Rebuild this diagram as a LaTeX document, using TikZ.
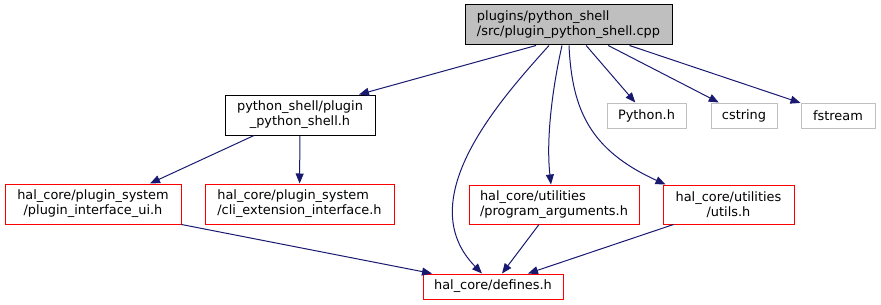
\documentclass[tikz,border=0pt]{standalone}
\usepackage{fontspec}
\setmainfont{DejaVu Sans}
\usetikzlibrary{arrows.meta}

\definecolor{edgeblue}{RGB}{25,25,112}
\definecolor{boxgray}{RGB}{191,191,191}

\tikzset{
  file/.style={draw, line width=1pt, inner sep=0pt, minimum height=40pt,
    font=\fontsize{12.9}{15}\selectfont},
  redfile/.style={file, draw=red},
  sysfile/.style={file, draw=boxgray, minimum height=25pt},
  include/.style={draw=edgeblue, line width=1pt,
    -{Triangle[length=10pt,width=8pt,fill=edgeblue]}}
}

\begin{document}
\begin{tikzpicture}[x=1pt,y=-1pt]
  \useasboundingbox (0,0) rectangle (881,305);
  % top file
  \node[file, fill=boxgray, minimum width=207pt, align=left] (main) at (568.5,25)
    {plugins/python\_shell\\/src/plugin\_python\_shell.cpp};
  % first level
  \node[file, minimum width=150pt, align=center] (pyshell) at (300,115)
    {python\_shell/plugin\\\_python\_shell.h};
  \node[sysfile, minimum width=79pt] (pythonh) at (646.5,115.5) {Python.h};
  \node[sysfile, minimum width=66pt] (cstring) at (744,115.5) {cstring};
  \node[sysfile, minimum width=74pt] (fstream) at (838,115.5) {fstream};
  % second level
  \node[redfile, minimum width=176pt, align=center] (ui) at (93,204)
    {hal\_core/plugin\_system\\/plugin\_interface\_ui.h};
  \node[redfile, minimum width=189pt, align=left] (cli) at (299.5,204)
    {hal\_core/plugin\_system\\/cli\_extension\_interface.h};
  \node[redfile, minimum width=170pt, minimum height=39pt, align=left] (progargs) at (554,204.5)
    {hal\_core/utilities\\/program\_arguments.h};
  \node[redfile, minimum width=131pt, minimum height=39pt, align=center] (utils) at (728.5,204.5)
    {hal\_core/utilities\\/utils.h};
  % bottom file
  \node[redfile, minimum width=140pt, minimum height=25pt] (defines) at (493,286.5)
    {hal\_core/defines.h};

  \draw[include] ([xshift=-32.5pt]main.south) -- ([xshift=59pt]pyshell.north);
  \draw[include] ([xshift=-19.5pt]main.south) .. controls (500,100) and (410,200)
    .. ([xshift=-11pt]defines.north);
  \draw[include] ([xshift=-6.5pt]main.south) .. controls (552,90) and (546,140)
    .. ([xshift=-3pt]progargs.north);
  \draw[include] ([xshift=0.5pt]main.south) .. controls (572,110) and (590,150)
    .. ([xshift=-63pt]utils.north);
  \draw[include] (main) -- (pythonh);
  \draw[include] (main) -- (cstring);
  \draw[include] (main) -- (fstream);
  \draw[include] ([xshift=-46pt]pyshell.south) -- ([xshift=57pt]ui.north);
  \draw[include] (pyshell) -- (cli);
  \draw[include] (ui.south east) -- ([xshift=-61pt]defines.north);
  \draw[include] ([xshift=-15pt]progargs.south) -- ([xshift=9pt]defines.north);
  \draw[include] ([xshift=-55pt]utils.south) -- ([xshift=35pt]defines.north);
\end{tikzpicture}
\end{document}
